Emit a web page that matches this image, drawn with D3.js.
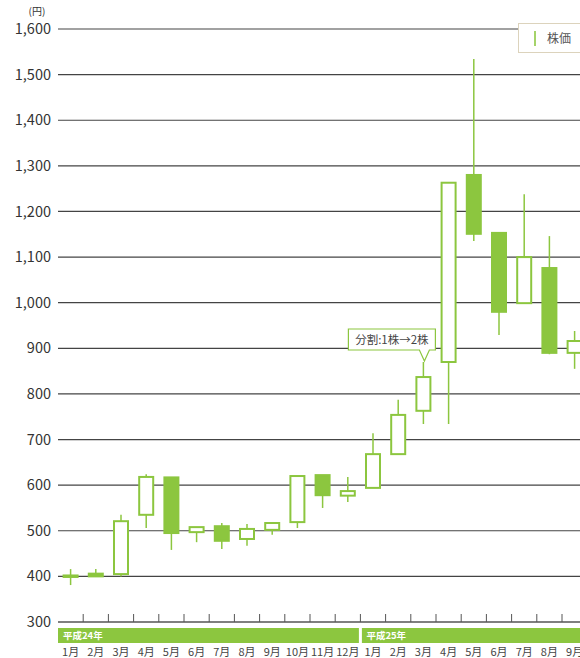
<!DOCTYPE html>
<html>
<head>
<meta charset="utf-8">
<script src="https://cdn.jsdelivr.net/npm/d3@7.9.0/dist/d3.min.js"></script>
<style>
  html, body { margin: 0; padding: 0; background: #fff; }
  svg { display: block; font-family: "Noto Sans CJK JP", "Noto Sans", sans-serif; }
</style>
</head>
<body>
<svg id="chart" width="580" height="658"></svg>
<script>
// monthly candles, 平成24年1月 .. 平成25年9月
const years = ["平成24年", "平成25年"];
const yearOfMonth = [0,0,0,0,0,0,0,0,0,0,0,0, 1,1,1,1,1,1,1,1,1];
const monthLabels = ["1月","2月","3月","4月","5月","6月","7月","8月","9月","10月","11月","12月",
                     "1月","2月","3月","4月","5月","6月","7月","8月","9月"];
const openPrices  = [400, 406, 405, 535, 617, 497, 510, 482, 502, 519, 622, 577, 594, 668, 763, 870, 1280, 1153, 999, 1076, 890];
const highPrices  = [416, 416, 535, 624, 617, 508, 517, 515, 517, 620, 622, 618, 714, 787, 870, 1263, 1534, 1155, 1238, 1146, 938];
const lowPrices   = [381, 400, 400, 506, 458, 475, 460, 467, 491, 506, 550, 563, 594, 668, 734, 734, 1135, 929, 999, 887, 855];
const closePrices = [402, 400, 521, 618, 495, 508, 478, 504, 517, 620, 578, 587, 668, 754, 837, 1263, 1151, 980, 1100, 890, 916];
const yTicks = [300, 400, 500, 600, 700, 800, 900, 1000, 1100, 1200, 1300, 1400, 1500, 1600];
const splitNote = { month: 14, text: "分割:1株→2株" };

const green = "#8cc63f";
const svg = d3.select("#chart");
const W = 580;

const keys = monthLabels.map((m, i) => i);
const x = d3.scaleBand().domain(keys).range([58, 58 + 21 * 25.2]).padding(0);
const y = d3.scaleLinear().domain([300, 1600]).range([622, 29]);

// grid lines
svg.append("g").selectAll("line")
  .data(yTicks.filter(d => d > 300))
  .join("line")
  .attr("x1", 58).attr("x2", W)
  .attr("y1", d => y(d)).attr("y2", d => y(d))
  .attr("stroke", "#444").attr("stroke-width", 1.2);

// y labels
svg.append("g").selectAll("text")
  .data(yTicks)
  .join("text")
  .attr("x", 51).attr("y", d => y(d))
  .attr("dy", "0.35em")
  .attr("text-anchor", "end")
  .attr("font-size", 14.5)
  .attr("fill", "#333")
  .text(d => d3.format(",")(d));

svg.append("text")
  .attr("x", 37).attr("y", 15)
  .attr("text-anchor", "middle")
  .attr("font-size", 10)
  .attr("fill", "#333")
  .text("(円)");

// bottom axis line + ticks
svg.append("line")
  .attr("x1", 58).attr("x2", W)
  .attr("y1", y(300)).attr("y2", y(300))
  .attr("stroke", "#555").attr("stroke-width", 1.5);
svg.append("g").selectAll("line")
  .data(keys.slice(1))
  .join("line")
  .attr("x1", d => x(d)).attr("x2", d => x(d))
  .attr("y1", y(300) - 8).attr("y2", y(300))
  .attr("stroke", "#555").attr("stroke-width", 1);

// year bands
const yearG = svg.append("g");
years.forEach((label, yi) => {
  const idx = keys.filter(k => yearOfMonth[k] === yi);
  const x0 = x(idx[0]);
  const x1 = x(idx[idx.length - 1]) + x.bandwidth();
  yearG.append("rect")
    .attr("x", x0 + (yi > 0 ? 1.5 : 0)).attr("y", 628)
    .attr("width", x1 - x0 - (yi > 0 ? 1.5 : 0) - 1.5).attr("height", 15)
    .attr("fill", green);
  yearG.append("text")
    .attr("x", x0 + (yi > 0 ? 6 : 5)).attr("y", 636)
    .attr("dy", "0.35em")
    .attr("font-size", 9.5).attr("font-weight", "bold")
    .attr("fill", "#fff")
    .text(label);
});

// month labels
svg.append("g").selectAll("text")
  .data(keys)
  .join("text")
  .attr("x", d => x(d) + x.bandwidth() / 2)
  .attr("y", 656)
  .attr("text-anchor", "middle")
  .attr("font-size", 11)
  .attr("fill", "#444")
  .text(d => monthLabels[d]);

// candles
const candleW = 16;
const candles = svg.append("g").selectAll("g")
  .data(keys)
  .join("g")
  .attr("transform", d => `translate(${x(d) + x.bandwidth() / 2},0)`);

candles.append("line")
  .attr("y1", d => y(highPrices[d])).attr("y2", d => y(lowPrices[d]))
  .attr("stroke", green).attr("stroke-width", 1.5);

candles.append("rect")
  .attr("x", -candleW / 2 + 1)
  .attr("y", d => y(Math.max(openPrices[d], closePrices[d])))
  .attr("width", candleW - 2)
  .attr("height", d => Math.max(1.5, Math.abs(y(openPrices[d]) - y(closePrices[d]))))
  .attr("fill", d => closePrices[d] < openPrices[d] ? green : "#fff")
  .attr("stroke", green).attr("stroke-width", 2);

// split callout
const cx = x(splitNote.month) + x.bandwidth() / 2;
const tipY = y(highPrices[splitNote.month]) - 1;
const bx0 = cx - 75, bx1 = cx + 12, by0 = tipY - 32, by1 = tipY - 11;
svg.append("path")
  .attr("d", `M${bx0},${by0} H${bx1} V${by1} H${cx + 6} L${cx + 1},${tipY} L${cx - 4},${by1} H${bx0} Z`)
  .attr("fill", "#fff").attr("stroke", green).attr("stroke-width", 1.2);
svg.append("text")
  .attr("x", (bx0 + bx1) / 2).attr("y", (by0 + by1) / 2)
  .attr("dy", "0.35em")
  .attr("text-anchor", "middle")
  .attr("font-size", 11.5).attr("fill", "#444")
  .text(splitNote.text);

// legend
const leg = svg.append("g").attr("transform", "translate(518,23)");
leg.append("rect")
  .attr("x", 0.5).attr("y", 0.5).attr("width", 70).attr("height", 29)
  .attr("fill", "#fff").attr("stroke", "#dcd3bc").attr("stroke-width", 1);
leg.append("line")
  .attr("x1", 17).attr("x2", 17).attr("y1", 8).attr("y2", 23)
  .attr("stroke", "#a5d36a").attr("stroke-width", 2);
leg.append("text")
  .attr("x", 29).attr("y", 16).attr("dy", "0.35em")
  .attr("font-size", 12).attr("fill", "#555")
  .text("株価");
</script>
</body>
</html>
